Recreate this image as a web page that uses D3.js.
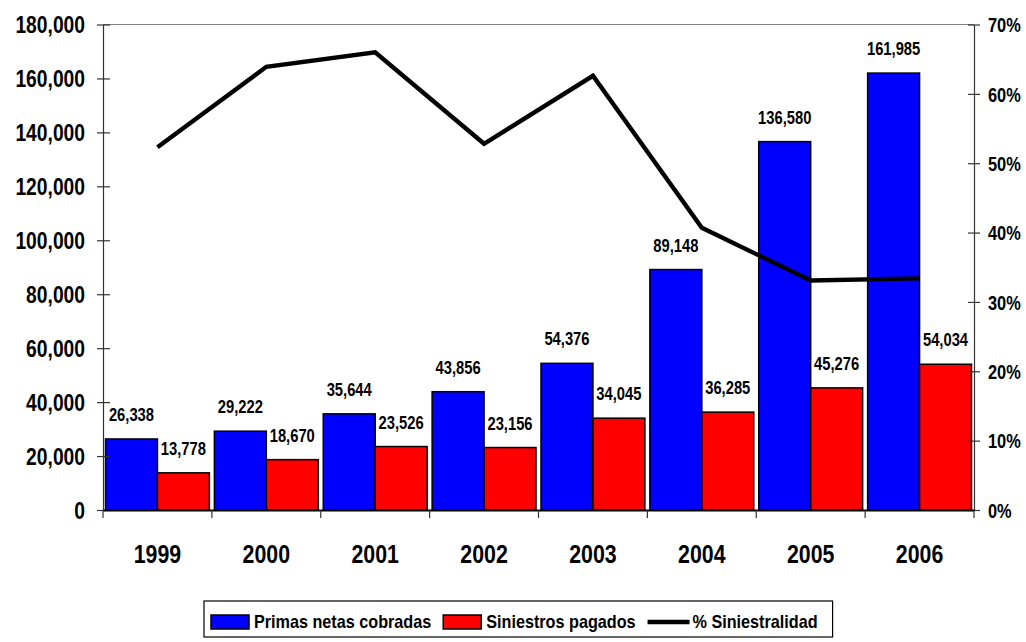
<!DOCTYPE html>
<meta charset="utf-8">
<style>
body { margin: 0; background: #fff; }
svg text {
  font-family: "Liberation Sans", Arial, sans-serif;
  font-weight: bold;
  fill: #000;
}
</style>
<body>
<svg width="1026" height="642"></svg>
<script src="https://cdn.jsdelivr.net/npm/d3@7"></script>
<script>
// chart data
var years = ["1999", "2000", "2001", "2002", "2003", "2004", "2005", "2006"];
var primas = [26338, 29222, 35644, 43856, 54376, 89148, 136580, 161985];
var siniestros = [13778, 18670, 23526, 23156, 34045, 36285, 45276, 54034];
var siniestralidad = [0.523, 0.639, 0.660, 0.528, 0.626, 0.407, 0.331, 0.334];
var leftTicks = [0, 20000, 40000, 60000, 80000, 100000, 120000, 140000, 160000, 180000];
var rightTicks = [0, 0.1, 0.2, 0.3, 0.4, 0.5, 0.6, 0.7];
var seriesNames = ["Primas netas cobradas", "Siniestros pagados", "% Siniestralidad"];

var svg = d3.select("svg"),
    plotLeft = 103, plotRight = 974, plotTop = 24.5, plotBottom = 510;
var SX = 0.82; // narrow font look

// squeeze text horizontally, keeping its anchor point
function narrow(sel, xpos, sx) {
  sx = sx || SX;
  sel.attr("x", xpos / sx).attr("transform", "scale(" + sx + ",1)");
}

var x = d3.scaleBand().domain(years).range([plotLeft, plotRight]).padding(0);
var x1 = d3.scaleBand().domain([0, 1]).range([2.5, x.bandwidth() - 2.5]).padding(0);
var y = d3.scaleLinear().domain([0, 180000]).range([plotBottom, plotTop]);
var y2 = d3.scaleLinear().domain([0, 0.7]).range([plotBottom, plotTop]);

// top border of plot area
svg.append("line")
    .attr("x1", plotLeft).attr("x2", plotRight)
    .attr("y1", plotTop).attr("y2", plotTop)
    .attr("stroke", "#808080").attr("stroke-width", 1.2);

// bars
var groups = svg.selectAll(".grp")
  .data(years)
  .enter().append("g")
    .attr("class", "grp")
    .attr("transform", function(d) { return "translate(" + x(d) + ",0)"; });

groups.append("rect")
    .attr("x", x1(0))
    .attr("y", function(d, i) { return y(primas[i]); })
    .attr("width", x1.bandwidth())
    .attr("height", function(d, i) { return plotBottom - y(primas[i]); })
    .attr("fill", "#0000ff")
    .attr("stroke", "#000").attr("stroke-width", 1.5);

groups.append("rect")
    .attr("x", x1(1))
    .attr("y", function(d, i) { return y(siniestros[i]); })
    .attr("width", x1.bandwidth())
    .attr("height", function(d, i) { return plotBottom - y(siniestros[i]); })
    .attr("fill", "#ff0000")
    .attr("stroke", "#000").attr("stroke-width", 1.5);

// value labels
var fmt = d3.format(",");
groups.append("text")
    .attr("y", function(d, i) { return y(primas[i]) - 18; })
    .attr("text-anchor", "middle")
    .style("font-size", "18px")
    .text(function(d, i) { return fmt(primas[i]); })
    .call(narrow, x1(0) + x1.bandwidth() / 2);

groups.append("text")
    .attr("y", function(d, i) { return y(siniestros[i]) - 18; })
    .attr("text-anchor", "middle")
    .style("font-size", "18px")
    .text(function(d, i) { return fmt(siniestros[i]); })
    .call(narrow, x1(1) + x1.bandwidth() / 2);

// left axis
var yAxis = svg.append("g")
    .attr("transform", "translate(" + plotLeft + ",0)")
    .call(d3.axisLeft(y).tickValues(leftTicks).tickFormat(fmt).tickSizeOuter(0));
yAxis.select(".domain").attr("stroke", "#333").attr("stroke-width", 1.2);
yAxis.selectAll(".tick line").attr("x2", 7).attr("x1", -6).attr("stroke", "#333").attr("stroke-width", 1.2);
yAxis.selectAll(".tick text").style("font-size", "23.5px").attr("dy", "0.36em").call(narrow, -18);

// right axis
var y2Axis = svg.append("g")
    .attr("transform", "translate(" + plotRight + ",0)")
    .call(d3.axisRight(y2).tickValues(rightTicks).tickFormat(d3.format(".0%")).tickSizeOuter(0));
y2Axis.select(".domain").attr("stroke", "#333").attr("stroke-width", 1.2);
y2Axis.selectAll(".tick line").attr("x1", -6).attr("x2", 6).attr("stroke", "#333").attr("stroke-width", 1.2);
y2Axis.selectAll(".tick text").style("font-size", "20px").attr("dy", "0.36em").call(narrow, 14);

// category axis
var xAxis = svg.append("g")
    .attr("transform", "translate(0," + plotBottom + ")")
    .call(d3.axisBottom(x).tickSize(0).tickPadding(35));
xAxis.select(".domain").attr("stroke", "#000").attr("stroke-width", 2.2);
xAxis.selectAll(".tick text").style("font-size", "26px").attr("dy", "0.71em")
    .attr("transform", "scale(" + SX + ",1)");
svg.append("g").selectAll("line")
  .data(d3.range(years.length + 1))
  .enter().append("line")
    .attr("x1", function(d) { return plotLeft + d * x.step(); })
    .attr("x2", function(d) { return plotLeft + d * x.step(); })
    .attr("y1", plotBottom).attr("y2", plotBottom + 8)
    .attr("stroke", "#333").attr("stroke-width", 1.2);

// line
var line = d3.line()
    .x(function(d, i) { return x(years[i]) + x.bandwidth() / 2; })
    .y(function(d) { return y2(d); });
svg.append("path")
    .datum(siniestralidad)
    .attr("d", line)
    .attr("fill", "none")
    .attr("stroke", "#000")
    .attr("stroke-width", 4.4)
    .attr("stroke-linejoin", "miter");

// legend
var legend = svg.append("g");
var box = legend.append("rect")
    .attr("fill", "#fff").attr("stroke", "#000").attr("stroke-width", 1.2);
var lx = 211, ly = 622, LSX = 0.9;
seriesNames.forEach(function(name, i) {
  if (i < 2) {
    legend.append("rect")
        .attr("x", lx).attr("y", ly - 7)
        .attr("width", 38).attr("height", 14)
        .attr("fill", i === 0 ? "#0000ff" : "#ff0000")
        .attr("stroke", "#000").attr("stroke-width", 1.5);
    lx += 43;
  } else {
    legend.append("line")
        .attr("x1", lx).attr("x2", lx + 42)
        .attr("y1", ly).attr("y2", ly)
        .attr("stroke", "#000").attr("stroke-width", 4.4);
    lx += 45;
  }
  var t = legend.append("text")
      .attr("y", ly).attr("dy", "0.36em")
      .style("font-size", "18px")
      .text(name)
      .call(narrow, lx, LSX);
  lx += t.node().getComputedTextLength() * LSX + 12;
});
box.attr("x", 204).attr("y", 601).attr("width", lx - 204 + 3).attr("height", 36);
</script>
</body>
